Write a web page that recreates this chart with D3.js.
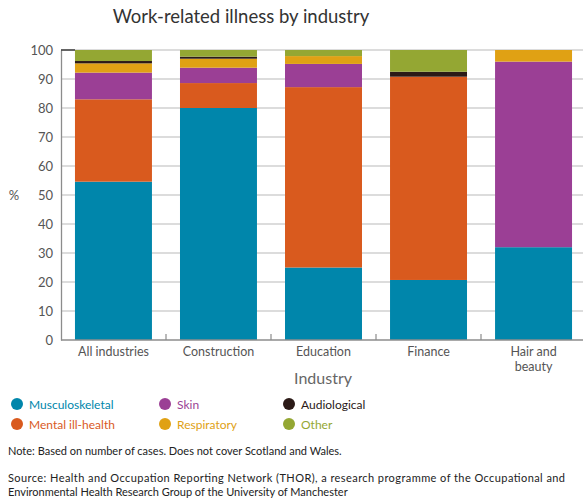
<!DOCTYPE html>
<html>
<head>
<meta charset="utf-8">
<script src="https://cdn.jsdelivr.net/npm/d3@7"></script>
<style>
  body { margin: 0; background: #fff; }
  svg { display: block; font-family: "Lato", "Open Sans", sans-serif; }
</style>
</head>
<body>
<svg id="chart" width="583" height="504"></svg>
<script>
// Industries along the x axis
const industries = ["All industries", "Construction", "Education", "Finance", "Hair and beauty"];

// Share of cases (%) per illness type, one value per industry
const musculoskeletal = [54.6, 80.0, 25.0, 20.7, 32.0];
const mentalIllHealth = [28.4, 8.6, 62.2, 70.1, 0];
const skin            = [9.2, 5.3, 8.0, 0, 64.0];
const respiratory     = [3.2, 3.1, 2.7, 0, 4.0];
const audiological    = [0.8, 0.7, 0, 1.7, 0];
const other           = [3.8, 2.3, 2.1, 7.5, 0];

const seriesNames = ["Musculoskeletal", "Mental ill-health", "Skin", "Respiratory", "Audiological", "Other"];
const seriesValues = [musculoskeletal, mentalIllHealth, skin, respiratory, audiological, other];
const seriesColors = ["#0086ab", "#d95a1e", "#9b3f95", "#e0a114", "#2b1a17", "#94a733"];
const yTicks = [0, 10, 20, 30, 40, 50, 60, 70, 80, 90, 100];

const svg = d3.select("#chart");

const x = d3.scaleBand().domain(industries).range([61, 586]).paddingInner(0.267).paddingOuter(0.133);
const xBand = d3.scaleBand().domain(industries).range([61, 586]);
const y = d3.scaleLinear().domain([0, 100]).range([340, 50]);

// Horizontal gridlines
svg.append("g")
  .selectAll("line")
  .data(yTicks.filter(d => d > 0))
  .join("line")
  .attr("x1", 61).attr("x2", 583)
  .attr("y1", d => y(d)).attr("y2", d => y(d))
  .attr("stroke", "#b9b9b9").attr("stroke-width", 1.2);

// Stacked bars, bottom to top in series order
const table = industries.map((name, i) => {
  const row = { industry: name };
  seriesNames.forEach((s, j) => { row[s] = seriesValues[j][i]; });
  return row;
});
const layers = d3.stack().keys(seriesNames)(table);

svg.append("g")
  .selectAll("g")
  .data(layers)
  .join("g")
  .attr("fill", d => seriesColors[seriesNames.indexOf(d.key)])
  .selectAll("rect")
  .data(d => d)
  .join("rect")
  .attr("x", d => x(d.data.industry))
  .attr("width", x.bandwidth())
  .attr("y", d => y(d[1]))
  .attr("height", d => Math.max(0, y(d[0]) - y(d[1])));

// Y axis
const yAxis = svg.append("g")
  .attr("transform", "translate(61,0)")
  .call(d3.axisLeft(y).tickValues(yTicks).tickSize(0).tickPadding(8));
yAxis.select(".domain").attr("stroke", "#8c8c8c").attr("stroke-width", 1.3);
yAxis.selectAll("text")
  .attr("fill", "#555").attr("font-size", 13)
  .attr("font-family", "Lato, sans-serif");

// Dark cap at the top of the axis
svg.append("line")
  .attr("x1", 61).attr("x2", 75)
  .attr("y1", y(100)).attr("y2", y(100))
  .attr("stroke", "#222").attr("stroke-width", 1.3);

// X axis baseline and separators between categories
const xAxis = svg.append("g")
  .attr("transform", `translate(0,${y(0)})`)
  .call(d3.axisBottom(x).tickSize(0).tickPadding(7));
xAxis.select(".domain").attr("stroke", "#8c8c8c").attr("stroke-width", 1.3).attr("d", "M61,0H583");
xAxis.selectAll("text")
  .attr("fill", "#555").attr("font-size", 12.5)
  .attr("font-family", "Lato, sans-serif")
  .each(function(d) {
    if (d === "Hair and beauty") {
      const t = d3.select(this);
      t.text(null);
      t.append("tspan").attr("x", 0).text("Hair and");
      t.append("tspan").attr("x", 0).attr("dy", "1.2em").text("beauty");
    }
  });

svg.append("g")
  .selectAll("line")
  .data(industries.slice(1))
  .join("line")
  .attr("x1", d => xBand(d)).attr("x2", d => xBand(d))
  .attr("y1", y(0)).attr("y2", y(0) - 6)
  .attr("stroke", "#8c8c8c").attr("stroke-width", 1.2);

// Title and axis labels
svg.append("text")
  .attr("x", 241).attr("y", 23)
  .attr("text-anchor", "middle")
  .attr("font-size", 18.5).attr("fill", "#333")
  .text("Work-related illness by industry");

svg.append("text")
  .attr("x", 14).attr("y", 200)
  .attr("text-anchor", "middle")
  .attr("font-size", 13).attr("fill", "#555")
  .text("%");

svg.append("text")
  .attr("x", 323).attr("y", 384)
  .attr("text-anchor", "middle")
  .attr("font-size", 16).attr("fill", "#666")
  .text("Industry");

// Legend
const legendPos = [[17, 404], [17, 424], [165, 404], [165, 424], [289, 404], [289, 424]];
const legend = svg.append("g")
  .selectAll("g")
  .data(seriesNames)
  .join("g")
  .attr("transform", (d, i) => `translate(${legendPos[i][0]},${legendPos[i][1]})`);
legend.append("circle").attr("r", 6).attr("fill", (d, i) => seriesColors[i]);
legend.append("text")
  .attr("x", 12).attr("y", 4.5)
  .attr("font-size", 12)
  .attr("fill", (d, i) => seriesColors[i])
  .text(d => d);

// Footnotes
svg.append("text")
  .attr("x", 8).attr("y", 455)
  .attr("font-size", 11).attr("fill", "#222")
  .text("Note: Based on number of cases. Does not cover Scotland and Wales.");

svg.append("text")
  .attr("x", 8).attr("y", 482)
  .attr("font-size", 11).attr("fill", "#222")
  .attr("textLength", 557).attr("lengthAdjust", "spacing")
  .text("Source: Health and Occupation Reporting Network (THOR), a research programme of the Occupational and");

svg.append("text")
  .attr("x", 8).attr("y", 496)
  .attr("font-size", 11).attr("fill", "#222")
  .text("Environmental Health Research Group of the University of Manchester");
</script>
</body>
</html>
